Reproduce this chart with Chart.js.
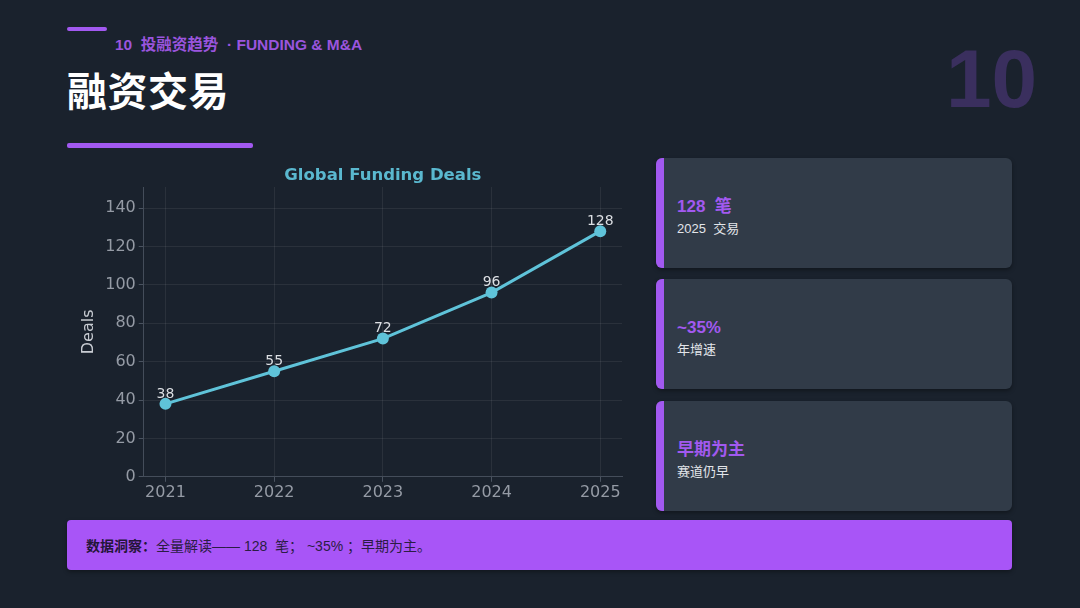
<!DOCTYPE html>
<html>
<head>
<meta charset="utf-8">
<script src="https://cdn.jsdelivr.net/npm/chart.js@4.4.1/dist/chart.umd.min.js"></script>
<style>
  html, body { margin: 0; padding: 0; }
  body {
    width: 1080px; height: 608px; overflow: hidden; position: relative;
    background: #1a222d;
    font-family: "Liberation Sans", "Noto Sans CJK SC", sans-serif;
  }
  .abs { position: absolute; }
  .topbar { left: 67px; top: 27px; width: 40px; height: 4px; background: #a259f0; border-radius: 2px; }
  .kicker { left: 115px; top: 35px; font-size: 15.5px; line-height: 20px; font-weight: 700; color: #9a55de; }
  .title { left: 67px; top: 60px; font-family: "Noto Sans CJK SC", sans-serif; font-size: 40px; font-weight: 700; color: #ffffff; letter-spacing: 0.5px; }
  .underline { left: 67px; top: 143px; width: 186px; height: 5px; background: #a259f0; border-radius: 2px; }
  .bignum { left: 946px; top: 38px; font-size: 82px; font-weight: 700; color: #3a2f5e; line-height: 1; }
  #chartBox { left: 70px; top: 158px; width: 560px; height: 349px; }
  .card { left: 656px; width: 356px; height: 110px; background: #313b48; border-radius: 6px; overflow: hidden; box-shadow: 0 2px 4px rgba(0,0,0,0.35); }
  .card::before { content: ""; position: absolute; left: 0; top: 0; bottom: 0; width: 8px; background: #a259f0; }
  .card .big { position: absolute; left: 21px; top: 39px; font-size: 17px; line-height: 20px; font-weight: 700; color: #a259f0; }
  .card .small { position: absolute; left: 21px; top: 62px; font-size: 13px; line-height: 18px; color: #e2e5ea; }
  .insight { left: 67px; top: 520px; width: 945px; height: 50px; background: #a855f7; border-radius: 4px; box-shadow: 0 2px 4px rgba(0,0,0,0.35); }
  .insight span { position: absolute; left: 19px; top: 16px; font-size: 14px; line-height: 20px; color: #2b1d44; }
  .insight b { font-weight: 700; color: #24163a; }
</style>
</head>
<body>
<div class="abs topbar"></div>
<div class="abs kicker">10&nbsp; 投融资趋势 &nbsp;· FUNDING &amp; M&amp;A</div>
<div class="abs title">融资交易</div>
<div class="abs underline"></div>
<div class="abs bignum">10</div>

<div class="abs" id="chartBox"><canvas id="dealsChart"></canvas></div>

<div class="abs card" style="top:158px"><div class="big">128&nbsp; 笔</div><div class="small">2025&nbsp; 交易</div></div>
<div class="abs card" style="top:279px"><div class="big">~35%</div><div class="small">年增速</div></div>
<div class="abs card" style="top:401px"><div class="big">早期为主</div><div class="small">赛道仍早</div></div>

<div class="abs insight"><span><b>数据洞察：</b>全量解读—— 128&nbsp; 笔； ~35% ；早期为主。</span></div>

<script>
const years = [2021, 2022, 2023, 2024, 2025];
const deals = [38, 55, 72, 96, 128];
const yTicks = [0, 20, 40, 60, 80, 100, 120, 140];
const chartTitle = 'Global Funding Deals';

const lineColor = '#5fc3d9';
const gridColor = 'rgba(255,255,255,0.07)';
const tickColor = '#959ba5';

// title centred over the plot area + value labels above each point
const annotate = {
    id: 'annotate',
    afterDatasetsDraw(chart) {
        const ctx = chart.ctx;
        const area = chart.chartArea;
        const meta = chart.getDatasetMeta(0);
        ctx.save();
        ctx.font = 'bold 16.5px "DejaVu Sans", sans-serif';
        ctx.fillStyle = '#5ab8cf';
        ctx.textAlign = 'center';
        ctx.textBaseline = 'middle';
        ctx.fillText(chartTitle, (area.left + area.right) / 2, 18);

        ctx.font = '14px "DejaVu Sans", sans-serif';
        ctx.fillStyle = '#dcdfe3';
        ctx.textBaseline = 'bottom';
        meta.data.forEach((pt, i) => {
            ctx.fillText(String(deals[i]), pt.x, pt.y - 3);
        });
        ctx.restore();
    }
};

const ctx = document.getElementById('dealsChart').getContext('2d');
new Chart(ctx, {
    type: 'line',
    data: {
        datasets: [{
            label: 'Deals',
            data: years.map((y, i) => ({ x: y, y: deals[i] })),
            borderColor: lineColor, backgroundColor: lineColor,
            borderWidth: 3, tension: 0,
            pointRadius: 6, pointHoverRadius: 6,
            pointBackgroundColor: lineColor, pointBorderColor: lineColor, pointBorderWidth: 0
        }]
    },
    options: {
        responsive: true, maintainAspectRatio: false, animation: false,
        layout: { padding: { left: 5, right: 8, top: 29, bottom: 4 } },
        plugins: {
            legend: { display: false },
            tooltip: { enabled: false },
            title: { display: false }
        },
        scales: {
            x: {
                type: 'linear', min: 2020.8, max: 2025.2,
                afterBuildTicks: axis => { axis.ticks = years.map(v => ({ value: v })); },
                grid: { color: gridColor, tickColor: '#4a5360', tickLength: 5 },
                border: { color: '#444d5a', width: 1 },
                ticks: { color: tickColor, font: { family: '"DejaVu Sans", sans-serif', size: 16 }, padding: 1, callback: v => String(v) }
            },
            y: {
                min: 0, max: 151,
                afterBuildTicks: axis => { axis.ticks = yTicks.map(v => ({ value: v })); },
                grid: { color: gridColor, tickColor: '#4a5360', tickLength: 5 },
                border: { color: '#444d5a', width: 1 },
                ticks: { color: tickColor, font: { family: '"DejaVu Sans", sans-serif', size: 16 }, padding: 3 },
                title: { display: true, text: 'Deals', color: '#c9cdd3', font: { family: '"DejaVu Sans", sans-serif', size: 16 }, padding: { bottom: 4 } }
            }
        }
    },
    plugins: [annotate]
});
</script>
</body>
</html>
